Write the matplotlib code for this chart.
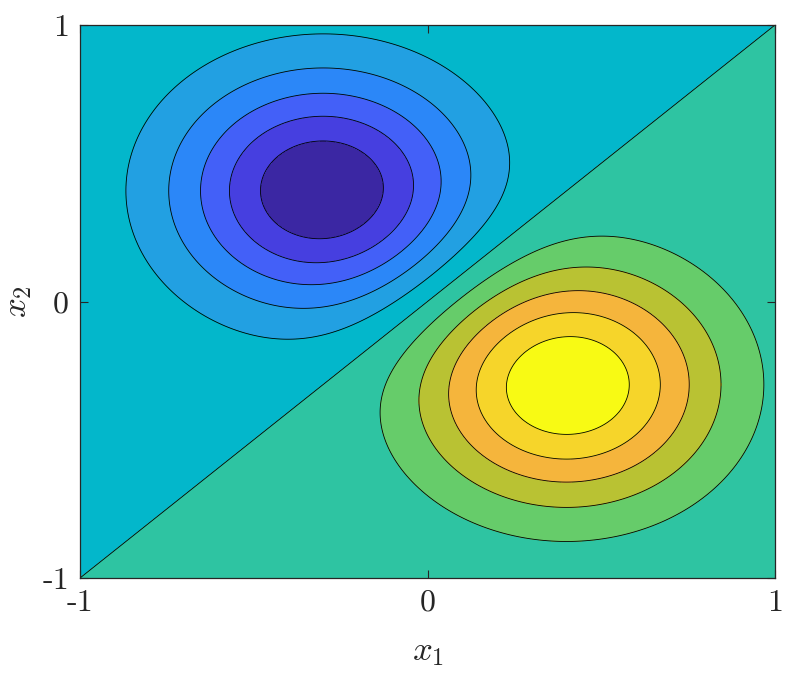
import numpy as np
import matplotlib
matplotlib.use("Agg")
import matplotlib.pyplot as plt

plt.rcParams["mathtext.fontset"] = "cm"

# ---- data (field parameters) ----
centers = [(-0.3, 0.4), (0.4, -0.3)]      # bump centres (x1, x2)
amplitudes = [-0.6, 0.6]                   # bump heights
width_sq = [0.18, 0.18]                    # 2*sigma^2 of each bump
levels = [-0.5, -0.4, -0.3, -0.2, -0.1, 0.0, 0.1, 0.2, 0.3, 0.4, 0.5]
xticks = [-1, 0, 1]
yticks = [-1, 0, 1]
xtick_labels = ["-1", "0", "1"]
ytick_labels = ["-1", "0", "1"]

band_colors = ["#3B27A3", "#463FE0", "#4360F8", "#2B87F8", "#22A0E2", "#03B7CB",
               "#2EC4A2", "#66CC6A", "#B9C233", "#F5B53C", "#F6D52A", "#F8FA14"]

x1 = np.linspace(-1, 1, 601)
x2 = np.linspace(-1, 1, 600)
X1, X2 = np.meshgrid(x1, x2)
Z = np.zeros_like(X1)
for (cx, cy), a, s in zip(centers, amplitudes, width_sq):
    Z += a * np.exp(-((X1 - cx) ** 2 + (X2 - cy) ** 2) / s)

all_levels = [-10.0] + levels + [10.0]

fig = plt.figure(figsize=(7.92, 6.75), dpi=100)
ax = fig.add_axes([80 / 792, 1 - 578 / 675, 695 / 792, 553 / 675])
ax.contourf(X1, X2, Z, levels=all_levels, colors=band_colors)
ax.contour(X1, X2, Z, levels=levels, colors="black", linewidths=0.6,
           linestyles="solid")

ax.set_xlim(-1, 1)
ax.set_ylim(-1, 1)
ax.set_xticks(xticks)
ax.set_yticks(yticks)
ax.set_xticklabels(xtick_labels, fontfamily="cmr10", fontsize=23)
ax.set_yticklabels(ytick_labels, fontfamily="cmr10", fontsize=23)
ax.tick_params(direction="in", length=6, width=0.8, top=True, right=True,
               colors="#262626", labelcolor="#262626", pad=8)
for sp in ax.spines.values():
    sp.set_linewidth(0.9)
    sp.set_color("#262626")

ax.set_xlabel(r"$x_1$", fontsize=25, color="#262626")
ax.set_ylabel(r"$x_2$", fontsize=25, color="#262626")
ax.xaxis.set_label_coords(0.5, -0.102)
ax.yaxis.set_label_coords(-0.066, 0.5)

fig.savefig("out.png", dpi=100)
